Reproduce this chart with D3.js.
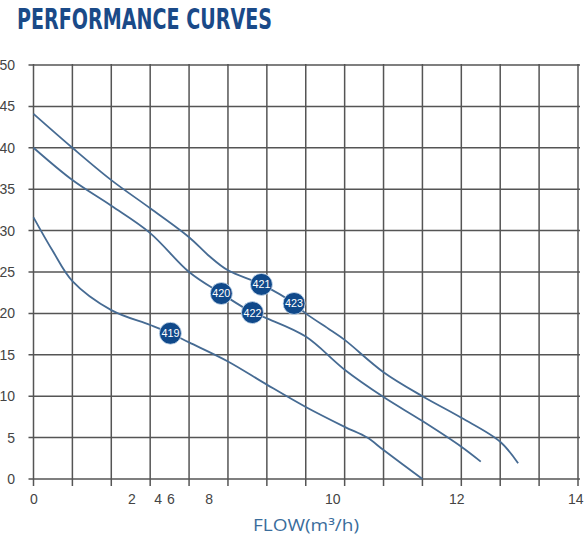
<!DOCTYPE html>
<html><head><meta charset="utf-8">
<script src="https://cdn.jsdelivr.net/npm/d3@7/dist/d3.min.js"></script>
<style>body{margin:0;background:#fff;}svg{display:block;}</style>
</head><body><svg id="c" width="584" height="544"></svg>
<script>
// ---- data ----
const gridX = d3.range(0, 15);          // vertical grid lines (flow grid units)
const headTicks = [0,5,10,15,20,25,30,35,40,45,50];
const flowTickPos = [0, 2.52, 3.19, 3.52, 4.5, 7.68, 10.87, 13.93];
const flowTickLabels = ["0","2","4","6","8","10","12","14"];

const curveTopX = [0,1,2,3,4,4.5,5,5.86,6.7,7,7.63,8,9,10,11,12,12.46];
const curveTopY = [44.1,40,36.1,32.7,29.2,27,25.2,23.5,21.2,20,18,16.8,12.9,10,7.4,4.5,1.9];
const curveMidX = [0,1,2,3,4,4.83,5.63,6,7,8,9,10,11,11.5];
const curveMidY = [40,36.1,33,29.7,25,22.4,20.1,19.4,17.2,13.2,9.9,7,3.9,2.1];
const curveLowX = [0,0.5,1,2,3,3.52,4,5,6,7,8,8.58,9,10];
const curveLowY = [31.6,27.5,23.9,20.4,18.6,17.6,16.5,14.2,11.4,8.7,6.3,5,3.5,0];

const modelNames = ["419","420","421","422","423"];
const modelX = [3.52,4.83,5.86,5.63,6.7];
const modelY = [17.6,22.4,23.5,20.1,21.2];

// ---- chart ----
const svg = d3.select("#c");
const x = d3.scaleLinear().domain([0,14]).range([33.5,578]);
const y = d3.scaleLinear().domain([0,50]).range([479,65]);

// title
svg.append("text").attr("x",17).attr("y",29)
  .attr("font-family","DejaVu Sans Condensed, DejaVu Sans").attr("font-weight","bold")
  .attr("font-size",29).attr("fill","#1a4a88")
  .attr("textLength",255).attr("lengthAdjust","spacingAndGlyphs")
  .text("PERFORMANCE CURVES");

// grid
const g = svg.append("g");
g.selectAll("line.v").data(gridX).join("line").attr("class","v")
  .attr("x1",d=>x(d)).attr("x2",d=>x(d)).attr("y1",y(50)-1).attr("y2",y(0)+7)
  .attr("stroke","#555").attr("stroke-width",1.5);
g.selectAll("line.h").data(headTicks).join("line").attr("class","h")
  .attr("y1",d=>y(d)).attr("y2",d=>y(d)).attr("x1",x(0)-5).attr("x2",x(14)+2)
  .attr("stroke","#555").attr("stroke-width",1.5);

// y labels
const yAxis = d3.axisLeft(y).tickValues(headTicks).tickSize(0).tickPadding(0);
const ya = svg.append("g").attr("transform","translate(15,0)").call(yAxis);
ya.select(".domain").remove();
ya.selectAll("text").attr("font-family","Liberation Sans, Arial").attr("font-size",14).attr("fill","#444");

// x labels
const xAxis = d3.axisBottom(x).tickValues(flowTickPos).tickSize(0).tickPadding(0)
  .tickFormat((d,i)=>flowTickLabels[i]);
const xa = svg.append("g").attr("transform","translate(0,494)").call(xAxis);
xa.select(".domain").remove();
xa.selectAll("text").attr("font-family","Liberation Sans, Arial").attr("font-size",14).attr("fill","#444");

// axis title
svg.append("text").attr("x",306).attr("y",531).attr("text-anchor","middle")
  .attr("font-family","Open Sans, Lato").attr("font-size",16).attr("fill","#3a6d9c")
  .attr("textLength",106).attr("lengthAdjust","spacingAndGlyphs")
  .text("FLOW(m³/h)");

// curves
const line = d3.line().x(d=>x(d[0])).y(d=>y(d[1])).curve(d3.curveCatmullRom.alpha(0.5));
[[curveTopX,curveTopY],[curveMidX,curveMidY],[curveLowX,curveLowY]].forEach(([xs,ys])=>{
  svg.append("path").datum(xs.map((v,i)=>[v,ys[i]])).attr("d",line)
    .attr("fill","none").attr("stroke","#466b93").attr("stroke-width",1.8);
});

// markers
const mk = svg.selectAll("g.m").data(modelNames).join("g").attr("class","m")
  .attr("transform",(d,i)=>`translate(${x(modelX[i])},${y(modelY[i])})`);
mk.append("circle").attr("r",11).attr("fill","#10498a").attr("stroke","#cfe0f0").attr("stroke-width",0.8);
mk.append("text").attr("text-anchor","middle").attr("dy","0.36em")
  .attr("font-family","Liberation Sans, Arial").attr("font-size",11).attr("fill","#fff")
  .attr("textLength",18).attr("lengthAdjust","spacingAndGlyphs").text(d=>d);
</script></body></html>
